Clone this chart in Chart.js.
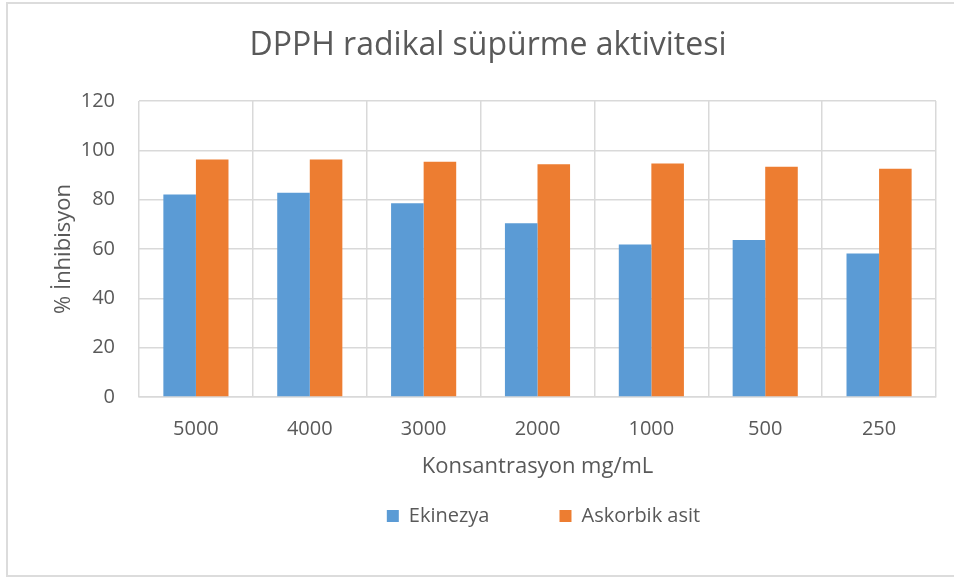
<!DOCTYPE html>
<html>
<head>
<meta charset="utf-8">
<script src="https://cdn.jsdelivr.net/npm/chart.js@4"></script>
<style>
  html, body { margin: 0; padding: 0; background: #fff; }
  #wrap {
    position: relative;
    width: 954px;
    height: 578px;
    overflow: hidden;
  }
  #frame {
    position: absolute;
    left: 6px;
    top: 2px;
    width: 960px;
    height: 575px;
    border: 2px solid #dcdcdc;
    box-sizing: border-box;
    pointer-events: none;
  }
  canvas { position: absolute; left: 0; top: 0; }
</style>
</head>
<body>
<div id="wrap">
  <canvas id="chart" width="954" height="578"></canvas>
  <div id="frame"></div>
</div>
<script>
const concentrations = ['5000', '4000', '3000', '2000', '1000', '500', '250'];
const ekinezya = [82.1, 82.8, 78.5, 70.4, 61.8, 63.6, 58.2];
const askorbikAsit = [96.3, 96.3, 95.4, 94.4, 94.7, 93.3, 92.5];
const yTicks = [0, 20, 40, 60, 80, 100, 120];

const textColor = '#595959';
const gridColor = '#d9d9d9';
const fontFamily = '"Open Sans", Lato, sans-serif';

// labels.padding is both the gap between legend items and the space above
// the row; keep the wide gap but pull the row up, and centre it under the
// plot rather than under the whole canvas. The legend clips to its box, so
// only the top edge moves.
const legendUnderPlot = {
  id: 'legendUnderPlot',
  afterLayout(chart) {
    const legend = chart.legend;
    const area = chart.chartArea;
    legend.top -= legend.options.labels.padding - 26;
    legend.left = area.left + 6;
    legend.right = area.right + 6;
  },
};

const ctx = document.getElementById('chart').getContext('2d');
const chart = new Chart(ctx, {
  type: 'bar',
  data: {
    labels: concentrations,
    datasets: [
      {
        label: 'Ekinezya',
        data: ekinezya,
        backgroundColor: '#5b9bd5',
        categoryPercentage: 0.572,
        barPercentage: 1.0,
      },
      {
        label: 'Askorbik asit',
        data: askorbikAsit,
        backgroundColor: '#ed7d31',
        categoryPercentage: 0.572,
        barPercentage: 1.0,
      },
    ],
  },
  plugins: [legendUnderPlot],
  options: {
    responsive: false,
    animation: false,
    layout: {
      padding: { left: 40, right: 18, top: 8, bottom: 42 },
    },
    plugins: {
      title: {
        display: true,
        text: 'DPPH radikal süpürme aktivitesi',
        color: textColor,
        font: { family: fontFamily, size: 32, weight: 'normal' },
        padding: { top: 18.8, bottom: 35.8 },
      },
      legend: {
        position: 'bottom',
        maxHeight: 56,
        labels: {
          color: textColor,
          font: { family: fontFamily, size: 20 },
          boxWidth: 12,
          boxHeight: 12,
          padding: 70,
        },
      },
      tooltip: { enabled: false },
    },
    scales: {
      x: {
        afterFit: (scale) => {
          scale.height = 83;
        },
        grid: { color: gridColor, lineWidth: 1.5, drawTicks: false },
        border: { color: gridColor, width: 1.5 },
        ticks: {
          color: textColor,
          font: { family: fontFamily, size: 20 },
          padding: 20,
        },
        title: {
          display: true,
          text: 'Konsantrasyon mg/mL',
          color: textColor,
          font: { family: fontFamily, size: 22 },
          padding: { top: 13, bottom: 0 },
        },
      },
      y: {
        min: 0,
        max: 120,
        afterBuildTicks: (axis) => {
          axis.ticks = yTicks.map((v) => ({ value: v }));
        },
        afterFit: (scale) => {
          scale.width = 99;
        },
        grid: { color: gridColor, lineWidth: 1.5, drawTicks: false },
        border: { display: false },
        ticks: {
          color: textColor,
          font: { family: fontFamily, size: 20 },
          padding: 24,
        },
        title: {
          display: true,
          text: '% İnhibisyon',
          color: textColor,
          font: { family: fontFamily, size: 22 },
          padding: { top: 10.3, bottom: 0 },
        },
      },
    },
  },
});
</script>
</body>
</html>
